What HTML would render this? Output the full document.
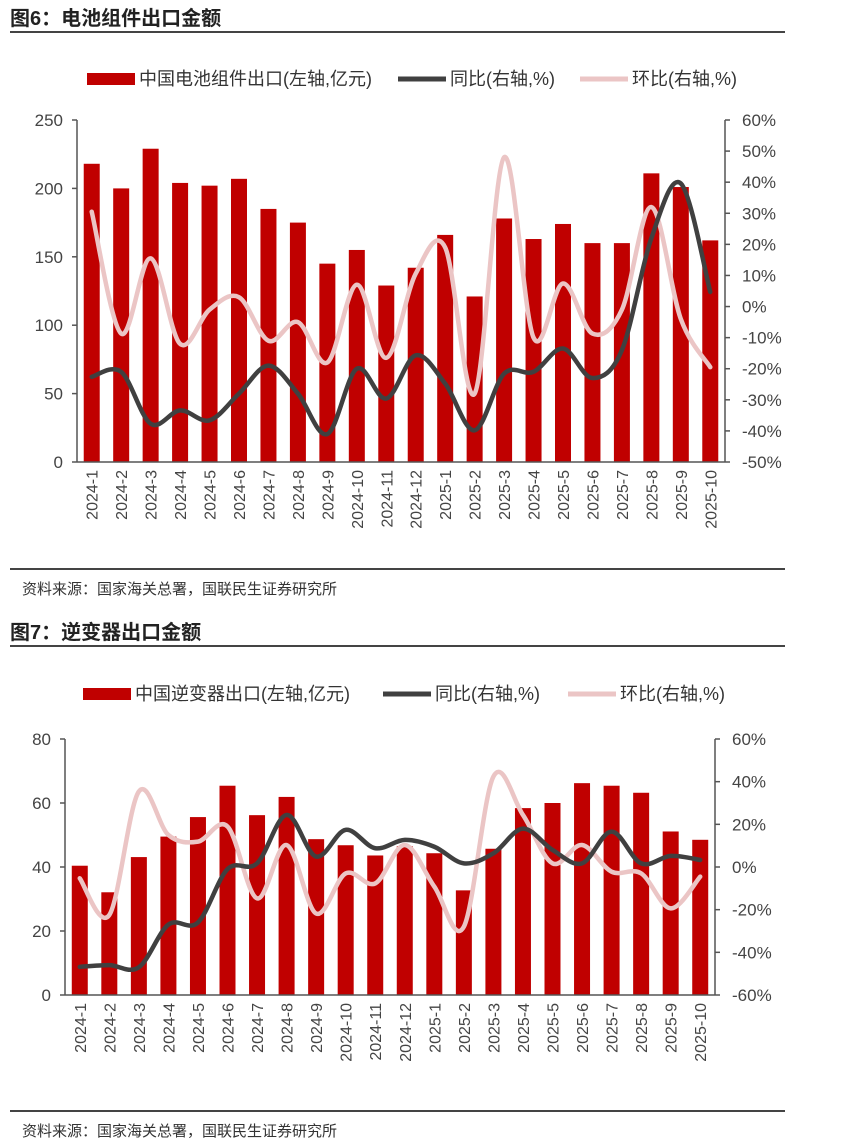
<!DOCTYPE html>
<html><head><meta charset="utf-8">
<style>
body{margin:0;background:#fff;width:849px;height:1145px;overflow:hidden;font-family:"Liberation Sans","Noto Sans CJK SC",sans-serif;}
svg{position:absolute;left:0;top:0}
</style></head>
<body>
<svg id="s" width="849" height="1145"></svg>
<script>
const cats=["2024-1","2024-2","2024-3","2024-4","2024-5","2024-6","2024-7","2024-8","2024-9","2024-10","2024-11","2024-12","2025-1","2025-2","2025-3","2025-4","2025-5","2025-6","2025-7","2025-8","2025-9","2025-10"];
const pvExport=[218,200,229,204,202,207,185,175,145,155,129,142,166,121,178,163,174,160,160,211,201,162];
const pvYoY=[-22.6,-21,-37.7,-33.4,-36.6,-28,-19,-28,-41,-20,-29.6,-15.7,-24.8,-39.8,-21.6,-21,-13.5,-23,-14,22,39.6,4.7];
const pvMoM=[30.5,-8.7,15.5,-12,-1,3,-11,-5,-18,7,-16.5,10.6,19,-28,48,-10,7.4,-8.7,-1,32,-4,-19.5];
const invExport=[40.4,32.1,43.1,49.5,55.6,65.4,56.2,61.9,48.7,46.8,43.6,46.5,44.3,32.7,45.7,58.4,60,66.2,65.4,63.2,51.1,48.5];
const invYoY=[-46.8,-46,-47,-27,-26,-1,1.7,24.4,4.9,17.4,8.8,12.7,9.5,1.7,6.4,18,8,1.7,16.6,1.7,5.2,3.3];
const invMoM=[-5.3,-22.5,35.4,15,11.9,19,-14.7,10.3,-21.8,-3,-7.7,10.3,-9.2,-28,42.4,24.4,1.7,10.3,-2.2,-3,-19.4,-4.5];
const pvLeftTicks=[0,50,100,150,200,250];
const pvRightTicks=[-50,-40,-30,-20,-10,0,10,20,30,40,50,60];
const invLeftTicks=[0,20,40,60,80];
const invRightTicks=[-60,-40,-20,0,20,40,60];

const NS="http://www.w3.org/2000/svg";
const svg=document.getElementById('s');
function mk(tag,attrs,parent){const e=document.createElementNS(NS,tag);for(const k in attrs)e.setAttribute(k,attrs[k]);(parent||svg).appendChild(e);return e;}
function txt(x,y,s,attrs,parent){const t=mk('text',Object.assign({x:x,y:y,'font-family':'"Liberation Sans","Noto Sans CJK SC",sans-serif'},attrs),parent);t.textContent=s;return t;}
function smooth(pts){let d="M"+pts[0][0]+","+pts[0][1];for(let i=0;i<pts.length-1;i++){const p0=pts[i-1]||pts[i],p1=pts[i],p2=pts[i+1],p3=pts[i+2]||p2;const t=0.5/3;
d+=" C"+(p1[0]+(p2[0]-p0[0])*t)+","+(p1[1]+(p2[1]-p0[1])*t)+" "+(p2[0]-(p3[0]-p1[0])*t)+","+(p2[1]-(p3[1]-p1[1])*t)+" "+p2[0]+","+p2[1];}return d;}

function chart(o){
  const g=mk('g',{});
  
  
  const tt=txt(10,o.titleY,o.title,{'font-size':20,'font-weight':'bold',fill:'#222'},g);
  
  mk('line',{x1:10,x2:785,y1:o.titleY+7,y2:o.titleY+7,stroke:'#444','stroke-width':2},g);
  const lg=mk('g',{},g);
  
  const ly=o.legY;
  let e=mk('rect',{x:o.legX[0],y:ly-6,width:48,height:12,fill:'#c00000'},lg);
  
  txt(o.legX[0]+52,ly+6,o.legBar,{'font-size':18,fill:'#333'},lg);
  e=mk('line',{x1:o.legX[1],x2:o.legX[1]+48,y1:ly,y2:ly,stroke:'#404040','stroke-width':5},lg);
  
  txt(o.legX[1]+52,ly+6,'同比(右轴,%)',{'font-size':18,fill:'#333'},lg);
  e=mk('line',{x1:o.legX[2],x2:o.legX[2]+48,y1:ly,y2:ly,stroke:'#ebc5c5','stroke-width':5},lg);
  
  txt(o.legX[2]+52,ly+6,'环比(右轴,%)',{'font-size':18,fill:'#333'},lg);
  const L=o.L,R=o.R,T=o.T,B=o.B,n=cats.length,bw=(R-L)/n;
  const yl=v=>B-(v-o.lmin)/(o.lmax-o.lmin)*(B-T);
  const yr=v=>B-(v-o.rmin)/(o.rmax-o.rmin)*(B-T);
  const xc=i=>L+bw*(i+0.5);
  o.bars.forEach((v,i)=>{const r=mk('rect',{x:xc(i)-8,y:yl(v),width:16,height:B-yl(v),fill:'#c00000'},g);
    });
  const ax=mk('g',{stroke:'#555','stroke-width':1.5},g);
  mk('line',{x1:L,x2:L,y1:T,y2:B},ax);mk('line',{x1:R,x2:R,y1:T,y2:B},ax);mk('line',{x1:L,x2:R,y1:B,y2:B},ax);
  o.lt.forEach(v=>{mk('line',{x1:L-5,x2:L,y1:yl(v),y2:yl(v)},ax);
    const t=txt(L-14,yl(v)+6,String(v),{'font-size':17,fill:'#444','text-anchor':'end'},g);
    });
  o.rt.forEach(v=>{mk('line',{x1:R,x2:R+5,y1:yr(v),y2:yr(v)},ax);
    const t=txt(R+17,yr(v)+6,v+'%',{'font-size':17,fill:'#444'},g);
    });
  cats.forEach((c,i)=>{const t=txt(0,0,c,{'font-size':16,fill:'#444','text-anchor':'end',transform:'translate('+(xc(i)+6)+','+(B+8)+') rotate(-90)'},g);
    });
  let p=mk('path',{d:smooth(o.mom.map((v,i)=>[xc(i),yr(v)])),fill:'none',stroke:'#ebc5c5','stroke-width':4.5,'stroke-linecap':'round'},g);
  
  p=mk('path',{d:smooth(o.yoy.map((v,i)=>[xc(i),yr(v)])),fill:'none',stroke:'#404040','stroke-width':4.5,'stroke-linecap':'round'},g);
  
  mk('line',{x1:10,x2:785,y1:o.footY,y2:o.footY,stroke:'#444','stroke-width':2},g);
  const s=txt(22,o.footY+25,'资料来源：国家海关总署，国联民生证券研究所',{'font-size':15,fill:'#333'},g);
  
}
chart({name:'pv-module-export-chart',title:'图6：电池组件出口金额',titleY:25,legY:79,legX:[87,398,580],legBar:'中国电池组件出口(左轴,亿元)',
  L:77,R:725,T:120,B:462,lmin:0,lmax:250,rmin:-50,rmax:60,lt:pvLeftTicks,rt:pvRightTicks,bars:pvExport,yoy:pvYoY,mom:pvMoM,footY:569});
chart({name:'inverter-export-chart',title:'图7：逆变器出口金额',titleY:639,legY:694,legX:[83,383,568],legBar:'中国逆变器出口(左轴,亿元)',
  L:65,R:715,T:739,B:995,lmin:0,lmax:80,rmin:-60,rmax:60,lt:invLeftTicks,rt:invRightTicks,bars:invExport,yoy:invYoY,mom:invMoM,footY:1111});
</script>
</body></html>
